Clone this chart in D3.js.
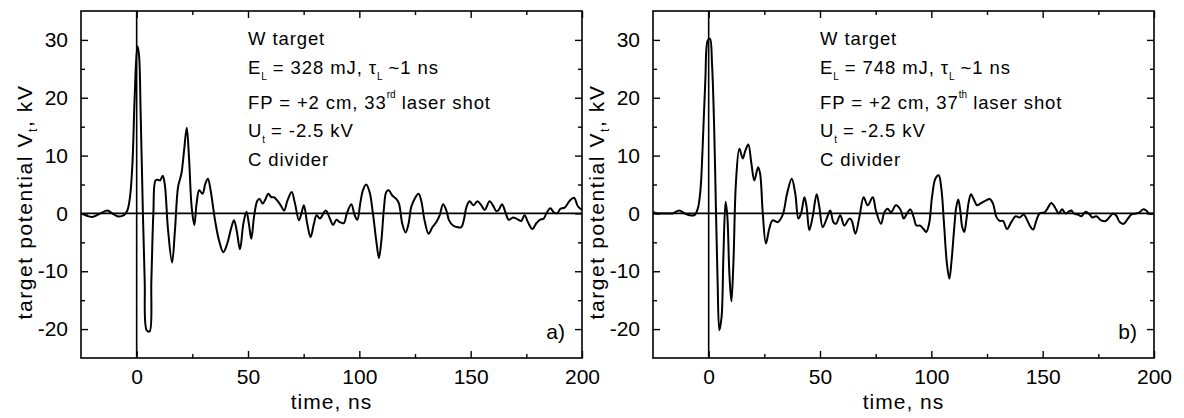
<!DOCTYPE html>
<html>
<head>
<meta charset="utf-8">
<script src="https://cdn.jsdelivr.net/npm/d3@7"></script>
<style>
  html, body { margin: 0; padding: 0; background: #fff; }
  svg { display: block; }
  text { font-family: "Liberation Sans", Arial, sans-serif; fill: #000; }
</style>
</head>
<body>
<svg id="chart" width="1184" height="418"></svg>
<script>
// ---- data (time in ns, target potential in kV) ----
const timeA = [-25,-20,-16.2,-13.2,-10.9,-8.7,-5.7,-4.2,-3,-1.9,-0.9,0.3,1,1.8,2.8,3.6,4.5,5.8,6.6,7.5,8.5,9.6,10.5,11.7,12.6,14.1,15.9,17.2,18.6,20.1,21.3,22.5,23.5,24.7,25.9,26.9,28.1,29.6,30.8,32,33.2,35.2,37,38.9,40.7,42.2,43.7,44.9,46.4,47.9,49.3,50.4,51.5,52.7,54.2,55.2,56.6,57.9,59.1,60.5,61.7,63.2,64.7,66.2,67.7,69.6,71.1,72.9,74,75.1,76.6,78.1,79.6,80.8,82.3,84.9,86.9,88.2,89.7,91.2,93,94.4,96.4,97.9,99.1,100.4,101.6,103.1,104.6,106.1,107.6,108.8,109.9,111.1,112.1,113.2,114.8,116.6,117.8,119.3,120.8,122.1,123.3,124.8,126.6,127.8,129.3,131.1,132.8,134.6,136.1,137.6,139.1,140.3,142.1,144.3,145.8,146.9,148.1,149.5,151.3,153,154.8,156.3,158.5,160,161.5,162.6,164.1,165.6,167.1,169,170.5,172.7,174.2,175.7,177.7,179.5,181,182.8,184,185.8,187.3,188.8,190.3,192.2,194.5,196.4,198.2,200];
const voltA = [0,-0.6,0,0.5,0,-0.5,-0.3,0.5,2.8,8.6,20,28.9,27.6,17.2,0,-11.6,-20.2,-20.4,-11.6,0,5.7,5.8,5.7,6.5,5.1,-2.9,-8.5,-2.9,4.6,6.9,10.9,14.8,9.7,1.1,-2,1.7,4,3.4,5.1,6,4,-1.2,-4.7,-6.7,-5.2,-2.9,-1.2,-2.9,-6.2,-1.8,0.3,-1.8,-4.4,-0.6,2.2,2.5,1.7,2.5,3.4,2.8,2.8,2.2,1.4,0.5,2.2,3.7,1.7,-1.2,0,1.4,-1.8,-4.1,-1.8,-0.3,-0.9,0.5,-1.0,-2,-1.1,-1.5,-1.7,0,1.6,-0.3,-1.1,1.7,4,5,3.7,0,-4.7,-7.7,-4.7,1.1,3.7,4,3.1,2.5,1.7,-1.8,-3.3,-1.8,1.1,2.5,3.4,2.2,-1.2,-3.5,-2.4,-1.5,-0.3,1.6,0.5,-1.2,-2.1,-2.4,-2.4,-1.2,1.1,2.1,1.4,2.1,1.4,0.6,2.1,1.4,0.4,0.6,1.6,0.2,-1.1,-0.7,-0.9,-1.3,-0.3,-1.5,-2.7,-1.7,-1.1,-0.9,0,0.9,0.2,0,0.8,1,2.2,2.7,1.2,0.6];

const timeB = [-25,-22.9,-19.2,-16.2,-13.2,-10.9,-8.7,-6.4,-4.9,-3.7,-2.7,-1.5,-0.4,0.6,1.5,2.5,3.3,4,4.8,5.8,6.6,7.6,8.4,9.3,10.2,11.1,12.3,13.8,15.3,16.5,17.8,19.2,20.5,22.2,23.1,24.3,25.7,27.2,28.7,31,33.2,35.2,37.3,38.9,40.3,41.5,43,44,45.2,46.7,48.5,49.7,51.2,53,54.6,56,57.2,59.1,60.9,63.2,64.2,65.9,67.7,69.6,71.4,73.7,75.1,77.4,78.9,80.4,81.9,84.1,86.2,87.6,89.1,90.6,92.1,93.3,95,96.5,97.7,99,100.3,101.8,103.3,104.5,105.7,107,108.1,109.1,110.2,111.2,112.1,113,113.9,114.8,115.7,116.8,117.8,119,120.5,122.4,124.4,126.2,127.7,129.2,130.7,132.2,134,135.9,137.9,139.7,141.5,142.7,144.2,145.7,147.2,148.6,150.9,152.1,153.9,155.7,157.2,158.7,160.2,161.7,162.9,163.9,165.9,167.4,169.3,171.1,172.3,174.1,176.3,178.3,180.1,181.6,183.1,184.6,186.4,188.3,189.8,192,193.5,195.1,196.5,197.7,200];
const voltB = [0.2,0,0,0,0.5,0,-0.3,-0.3,0.8,4,11.5,23,29.9,30.2,25.9,14.4,0,-11.6,-20.2,-17.9,-7.6,2,-0.6,-10.4,-15.2,-8.7,5.7,11.2,9.5,10.9,11.9,8.6,5.7,8,6.9,0,-5.2,-2.7,-1.2,-1.5,-0.3,3.4,6,3.4,-0.9,0,2.8,1.1,-2.9,-0.6,3.3,1.1,-2.4,-0.9,0.5,-1.5,-1.8,-0.3,-2.1,-0.9,-1.2,-3.5,-0.6,2.8,1.4,2.8,0.5,-1.8,0.2,0.8,0.2,1.4,0.6,-0.9,0,0.7,-0.7,-2.1,-2.1,-2.7,-3.2,-1.8,2.8,6,6.6,4.3,-1.8,-8.7,-11.3,-8.1,-2.9,1.1,2.4,0.5,-2.4,-3.2,-1.2,2,3.3,2.5,1.4,1.8,2.2,2.5,1.7,-0.6,-1.3,-1.3,-2.7,-1.5,-0.5,-0.7,-0.2,-0.9,-2.1,-2.8,-1.2,0,0.2,0.8,1.8,0.9,0,0.7,0,0.3,0.5,0,-0.2,-0.5,0.3,-0.2,-0.7,-0.5,-1.2,-1.3,-0.6,0,-0.4,-1.5,-1.8,-0.9,-0.2,0,0.2,0.7,0.5,0,0];

const xMajorTicks = [0, 50, 100, 150, 200];
const xMinorTicks = [25, 75, 125, 175];
const yMajorTicks = [-20, -10, 0, 10, 20, 30];
const yMinorTicks = [-15, -5, 5, 15, 25];
const xDomain = [-25, 200];
const yDomain = [-25, 35];

const panelLabels = ["a)", "b)"];
const energies = ["328", "748"];
const shotNumbers = ["33", "37"];
const shotSuffixes = ["rd", "th"];

// ---- layout ----
const svg = d3.select("#chart");
const panelLeft = [81, 653];
const topY = 11, W = 501, H = 347;
const series = [[timeA, voltA], [timeB, voltB]];

series.forEach(([tArr, vArr], i) => {
  const g = svg.append("g").attr("transform", `translate(${panelLeft[i]},${topY})`);
  const x = d3.scaleLinear().domain(xDomain).range([0, W]);
  const y = d3.scaleLinear().domain(yDomain).range([H, 0]);
  const fmt = d => String(d);

  // zero lines
  g.append("line").attr("x1", 0).attr("x2", W).attr("y1", y(0)).attr("y2", y(0))
    .attr("stroke", "#000").attr("stroke-width", 1.6);
  g.append("line").attr("x1", x(0)).attr("x2", x(0)).attr("y1", 0).attr("y2", H)
    .attr("stroke", "#000").attr("stroke-width", 1.6);

  // curve
  const data = tArr.map((t, k) => [t, vArr[k]]);
  const line = d3.line().x(d => x(d[0])).y(d => y(d[1])).curve(d3.curveCatmullRom.alpha(0.5));
  g.append("path").datum(data).attr("d", line)
    .attr("fill", "none").attr("stroke", "#000").attr("stroke-width", 2).attr("stroke-linejoin", "round");

  // axes
  const styleAxis = sel => {
    sel.select(".domain").remove();
    sel.selectAll(".tick line").attr("stroke", "#000").attr("stroke-width", 1.4);
    sel.selectAll(".tick text").style("font-size", "21px").attr("fill", "#000");
  };
  g.append("g").attr("transform", `translate(0,${H})`)
    .call(d3.axisBottom(x).tickValues(xMajorTicks).tickSize(-7).tickPadding(11).tickFormat(fmt)).call(styleAxis);
  g.append("g").attr("transform", `translate(0,${H})`)
    .call(d3.axisBottom(x).tickValues(xMinorTicks).tickSize(-4).tickFormat("")).call(styleAxis);
  g.append("g")
    .call(d3.axisTop(x).tickValues(xMajorTicks).tickSize(-7).tickFormat("")).call(styleAxis);
  g.append("g")
    .call(d3.axisTop(x).tickValues(xMinorTicks).tickSize(-4).tickFormat("")).call(styleAxis);
  g.append("g")
    .call(d3.axisLeft(y).tickValues(yMajorTicks).tickSize(-7).tickPadding(13).tickFormat(fmt)).call(styleAxis);
  g.append("g")
    .call(d3.axisLeft(y).tickValues(yMinorTicks).tickSize(-4).tickFormat("")).call(styleAxis);
  g.append("g").attr("transform", `translate(${W},0)`)
    .call(d3.axisRight(y).tickValues(yMajorTicks).tickSize(-7).tickFormat("")).call(styleAxis);
  g.append("g").attr("transform", `translate(${W},0)`)
    .call(d3.axisRight(y).tickValues(yMinorTicks).tickSize(-4).tickFormat("")).call(styleAxis);

  // frame
  g.append("rect").attr("x", 0).attr("y", 0).attr("width", W).attr("height", H)
    .attr("fill", "none").attr("stroke", "#000").attr("stroke-width", 1.6);

  // axis titles
  g.append("text").attr("x", W / 2).attr("y", 409 - topY).attr("text-anchor", "middle")
    .style("font-size", "21px").style("letter-spacing", "1px").text("time, ns");
  const yl = g.append("text").attr("transform", `translate(-49,${202 - topY}) rotate(-90)`)
    .attr("text-anchor", "middle").style("font-size", "21px").style("letter-spacing", "1.6px");
  yl.append("tspan").text("target potential V");
  yl.append("tspan").attr("dy", 5).style("font-size", "12px").text("t");
  yl.append("tspan").attr("dy", -5).text(", kV");

  // annotation
  const ax = 167;
  const ann = g.append("g").style("font-size", "18.5px").style("letter-spacing", "0.9px");
  ann.append("text").attr("x", ax).attr("y", 45 - topY).text("W target");
  const t2 = ann.append("text").attr("x", ax).attr("y", 74 - topY);
  t2.append("tspan").text("E");
  t2.append("tspan").attr("dy", 6).style("font-size", "10px").style("letter-spacing", "0px").text("L");
  t2.append("tspan").attr("dy", -6).text(` = ${energies[i]} mJ, τ`);
  t2.append("tspan").attr("dy", 6).style("font-size", "10px").style("letter-spacing", "0px").text("L");
  t2.append("tspan").attr("dy", -6).text(" ~1 ns");
  const t3 = ann.append("text").attr("x", ax).attr("y", 109 - topY);
  t3.append("tspan").text(`FP = +2 cm, ${shotNumbers[i]}`);
  t3.append("tspan").attr("dy", -11).style("font-size", "10px").style("letter-spacing", "0px").text(shotSuffixes[i]);
  t3.append("tspan").attr("dy", 11).text(" laser shot");
  const t4 = ann.append("text").attr("x", ax).attr("y", 137 - topY);
  t4.append("tspan").text("U");
  t4.append("tspan").attr("dy", 6).style("font-size", "10px").style("letter-spacing", "0px").text("t");
  t4.append("tspan").attr("dy", -6).text(" = -2.5 kV");
  ann.append("text").attr("x", ax).attr("y", 166 - topY).text("C divider");

  // panel label
  g.append("text").attr("x", W - 17).attr("y", 339 - topY).attr("text-anchor", "end")
    .style("font-size", "21px").text(panelLabels[i]);
});
</script>
</body>
</html>
